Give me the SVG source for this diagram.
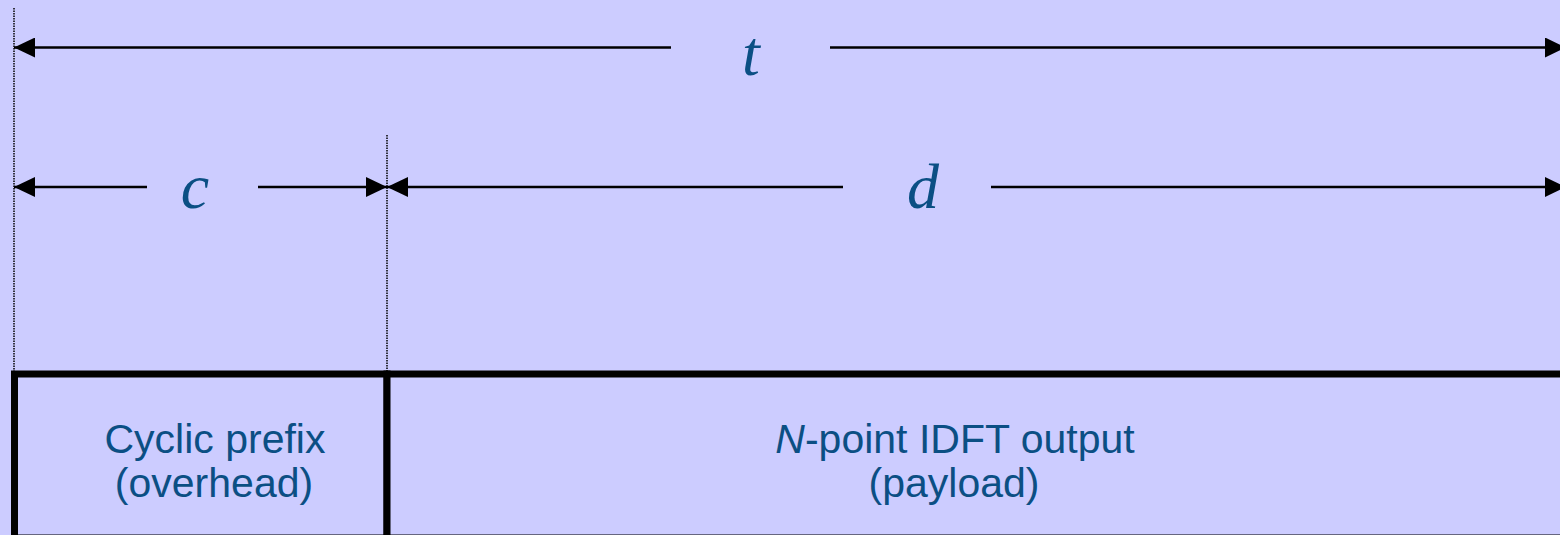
<svg xmlns="http://www.w3.org/2000/svg" width="1560" height="535" viewBox="0 0 1560 535">
  <defs>
    <style>
      .var { font-family: "Liberation Serif", "Times New Roman", serif; font-style: italic; font-size: 64px; fill: #0B4F84; text-anchor: middle; }
      .lbl { font-family: "Liberation Sans", Arial, sans-serif; font-size: 41px; fill: #0B4F84; text-anchor: middle; }
      .dim { stroke: #000; stroke-width: 2.5; fill: none; }
      .guide { stroke: #000; stroke-width: 1.5; stroke-dasharray: 1.5 1; fill: none; }
      .box { fill: #CCCCFF; stroke: #000; stroke-width: 7; }
    </style>
    <marker id="ah" markerUnits="userSpaceOnUse" markerWidth="21" markerHeight="20" refX="21" refY="10" orient="auto-start-reverse" viewBox="0 0 21 20">
      <path d="M0,0 L21,10 L0,20 Z" fill="#000"/>
    </marker>
  </defs>
  <rect x="0" y="0" width="1560" height="535" fill="#CCCCFF"/>

  <g id="guides">
    <line class="guide" x1="14" y1="8" x2="14" y2="371"/>
    <line class="guide" x1="387" y1="135" x2="387" y2="371"/>
  </g>

  <g id="connectors">
    <path class="dim" d="M14,47.5 H671" marker-start="url(#ah)"/>
    <path class="dim" d="M830,47.5 H1566" marker-end="url(#ah)"/>
    <path class="dim" d="M14,187 H147" marker-start="url(#ah)"/>
    <path class="dim" d="M258,187 H387" marker-end="url(#ah)"/>
    <path class="dim" d="M387,187 H843" marker-start="url(#ah)"/>
    <path class="dim" d="M991,187 H1566" marker-end="url(#ah)"/>
  </g>

  <g id="label-t"><text class="var" x="751" y="75">t</text></g>
  <g id="label-c"><text class="var" x="195" y="208">c</text></g>
  <g id="label-d"><text class="var" x="923" y="208">d</text></g>

  <g id="cyclic-prefix">
    <rect class="box" x="14.5" y="374" width="372.5" height="164"/>
    <text class="lbl" x="215" y="453">Cyclic prefix</text>
    <text class="lbl" x="214" y="497">(overhead)</text>
  </g>

  <g id="payload">
    <rect class="box" x="387" y="374" width="1200" height="164"/>
    <text class="lbl" x="955" y="453"><tspan font-style="italic">N</tspan>-point IDFT output</text>
    <text class="lbl" x="954" y="497">(payload)</text>
  </g>
</svg>
